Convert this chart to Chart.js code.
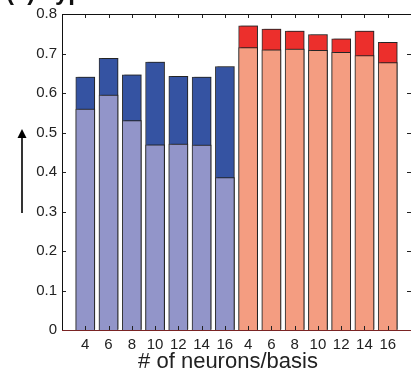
<!DOCTYPE html>
<html>
<head>
<meta charset="utf-8">
<script src="https://cdn.jsdelivr.net/npm/chart.js@4.4.1/dist/chart.umd.min.js"></script>
<style>
  html, body { margin: 0; padding: 0; background: #fff; overflow: hidden; }
  #wrap { width: 411px; height: 383px; position: relative; }
</style>
</head>
<body>
<div id="wrap"><canvas id="chart" width="411" height="383"></canvas></div>
<script>
// neurons per basis, two groups of seven
const sizeLabels = ['4', '6', '8', '10', '12', '14', '16', '4', '6', '8', '10', '12', '14', '16'];
const upperValues = [0.640, 0.688, 0.646, 0.678, 0.642, 0.640, 0.667, 0.770, 0.762, 0.757, 0.748, 0.737, 0.757, 0.728];
const lowerValues = [0.559, 0.595, 0.530, 0.469, 0.471, 0.468, 0.386, 0.715, 0.709, 0.711, 0.708, 0.703, 0.695, 0.677];
const yTicks = [0, 0.1, 0.2, 0.3, 0.4, 0.5, 0.6, 0.7, 0.8];
const xTitle = '# of neurons/basis';

const blueDark = '#3553a2', blueLight = '#9295c9';
const redDark = '#ec2f2c', redLight = '#f49d81';
const upperColors = sizeLabels.map((_, i) => i < 7 ? blueDark : redDark);
const lowerColors = sizeLabels.map((_, i) => i < 7 ? blueLight : redLight);

const toPoints = arr => arr.map((v, i) => ({ x: i + 1, y: v }));

const FONT = '"Liberation Sans", Arial, Helvetica, sans-serif';

// frame, inward ticks, arrow, axis title and clipped panel title
const framePlugin = {
    id: 'frame',
    beforeDatasetsDraw(chart) {
        const ctx = chart.ctx;
        ctx.save();
        ctx.shadowColor = 'rgba(0,0,0,0.28)';
        ctx.shadowOffsetX = 2;
        ctx.shadowOffsetY = -1;
        ctx.shadowBlur = 0;
    },
    afterDatasetsDraw(chart) {
        chart.ctx.restore();
    },
    afterDraw(chart) {
        const { ctx, chartArea: a, scales } = chart;
        ctx.save();
        ctx.lineWidth = 1;
        ctx.strokeStyle = '#222';
        // ticks
        ctx.beginPath();
        yTicks.forEach(v => {
            const y = Math.round(scales.y.getPixelForValue(v)) + 0.5;
            ctx.moveTo(a.left, y); ctx.lineTo(a.left + 4, y);
            ctx.moveTo(a.right, y); ctx.lineTo(a.right - 4, y);
        });
        sizeLabels.forEach((_, i) => {
            const x = Math.round(scales.x.getPixelForValue(i + 1)) + 0.5;
            ctx.moveTo(x, a.top); ctx.lineTo(x, a.top + 4);
            ctx.moveTo(x, a.bottom); ctx.lineTo(x, a.bottom - 4);
        });
        ctx.stroke();
        // left and top borders
        ctx.strokeStyle = '#111';
        ctx.beginPath();
        ctx.moveTo(a.left + 0.5, a.bottom);
        ctx.lineTo(a.left + 0.5, a.top + 0.5);
        ctx.lineTo(a.right, a.top + 0.5);
        ctx.stroke();
        // bottom border
        ctx.strokeStyle = '#7a2424';
        ctx.beginPath();
        ctx.moveTo(a.left, a.bottom + 0.5);
        ctx.lineTo(a.right, a.bottom + 0.5);
        ctx.stroke();
        // arrow
        ctx.strokeStyle = '#000';
        ctx.fillStyle = '#000';
        ctx.lineWidth = 1.6;
        ctx.beginPath();
        ctx.moveTo(22, 213); ctx.lineTo(22, 136);
        ctx.stroke();
        ctx.beginPath();
        ctx.moveTo(22, 129); ctx.lineTo(17.5, 138); ctx.lineTo(26.5, 138);
        ctx.closePath();
        ctx.fill();
        // x axis title
        ctx.font = '22px ' + FONT;
        ctx.textAlign = 'center';
        ctx.textBaseline = 'alphabetic';
        ctx.fillStyle = '#222';
        ctx.fillText(xTitle, 228, 368);
        // panel title, mostly above the picture
        ctx.font = 'bold 24px ' + FONT;
        ctx.textAlign = 'left';
        ctx.fillStyle = '#111';
        ctx.fillText('(c) Typical', 6, 0);
        ctx.restore();
    }
};

new Chart(document.getElementById('chart'), {
    type: 'bar',
    data: {
        datasets: [
            {
                data: toPoints(lowerValues),
                backgroundColor: lowerColors,
                borderColor: '#333',
                borderWidth: 1
            },
            {
                data: toPoints(upperValues),
                backgroundColor: upperColors,
                borderColor: '#333',
                borderWidth: 1
            }
        ]
    },
    options: {
        responsive: false,
        animation: false,
        events: [],
        layout: { padding: { top: 14, right: 0, left: 0, bottom: 0 } },
        datasets: {
            bar: { grouped: false, barThickness: 19 }
        },
        plugins: {
            legend: { display: false },
            tooltip: { enabled: false }
        },
        scales: {
            x: {
                type: 'linear',
                min: 0,
                max: 15,
                offset: false,
                grid: { display: false, drawTicks: false },
                border: { display: false },
                ticks: {
                    stepSize: 1,
                    autoSkip: false,
                    maxRotation: 0,
                    padding: 6,
                    color: '#222',
                    font: { family: FONT, size: 15 },
                    callback: v => sizeLabels[v - 1] ?? ''
                },
                afterFit: s => {
                    s.height = 53;
                    s.paddingLeft = 0;
                    s.paddingRight = 0;
                }
            },
            y: {
                min: 0,
                max: 0.8,
                grid: { display: false, drawTicks: false },
                border: { display: false },
                ticks: {
                    stepSize: 0.1,
                    padding: 5,
                    color: '#222',
                    font: { family: FONT, size: 15 },
                    callback: v => Math.round(v * 10) / 10
                },
                afterFit: s => {
                    s.width = 62;
                    s.paddingTop = 0;
                    s.paddingBottom = 0;
                }
            }
        }
    },
    plugins: [framePlugin]
});
</script>
</body>
</html>
